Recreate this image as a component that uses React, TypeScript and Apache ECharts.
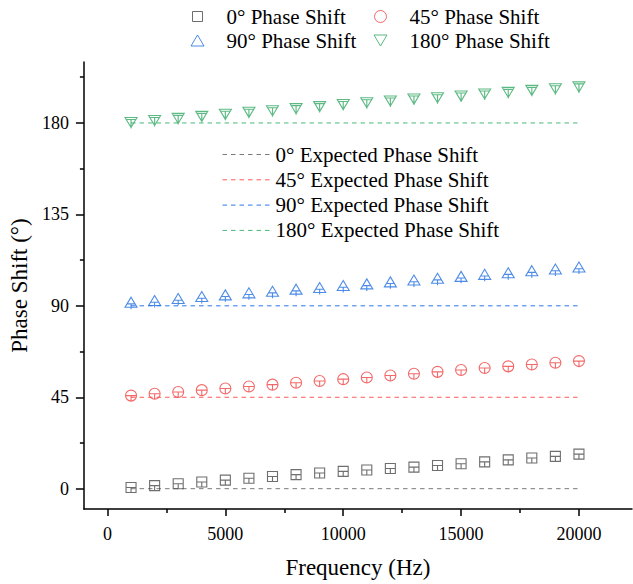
import React, { useEffect, useRef } from "react";
import * as echarts from "echarts";

const frequencies = [1000, 2000, 3000, 4000, 5000, 6000, 7000, 8000, 9000, 10000, 11000, 12000, 13000, 14000, 15000, 16000, 17000, 18000, 19000, 20000];
const phase0 = [0.6, 1.5, 2.4, 3.3, 4.2, 5.1, 6.0, 6.9, 7.7, 8.5, 9.2, 9.9, 10.6, 11.4, 12.3, 13.2, 14.2, 15.1, 15.9, 17.0];
const phase45 = [45.8, 46.7, 47.6, 48.5, 49.3, 50.3, 51.2, 52.1, 53.0, 53.9, 54.7, 55.7, 56.6, 57.5, 58.4, 59.4, 60.2, 61.1, 62.0, 62.8];
const phase90 = [91.3, 92.1, 93.1, 94.1, 94.9, 95.9, 96.7, 97.7, 98.5, 99.5, 100.3, 101.3, 102.2, 103.1, 104.0, 105.0, 105.8, 106.8, 107.6, 108.6];
const phase180 = [180.0, 181.0, 182.0, 183.0, 184.0, 185.0, 185.8, 186.8, 187.8, 188.8, 189.7, 190.6, 191.5, 192.2, 193.0, 194.0, 194.8, 195.8, 196.6, 197.5];
const expectedValues = [0, 45, 90, 180];
const expectedRange = [1000, 20000];

const measuredNames = ["0° Phase Shift", "45° Phase Shift", "90° Phase Shift", "180° Phase Shift"];
const expectedNames = ["0° Expected Phase Shift", "45° Expected Phase Shift", "90° Expected Phase Shift", "180° Expected Phase Shift"];
const xMajorTicks = [0, 5000, 10000, 15000, 20000];
const xMinorTicks = [2500, 7500, 12500, 17500];
const yMajorTicks = [0, 45, 90, 135, 180];
const yMinorTicks = [22.5, 67.5, 112.5, 157.5, 202.5];

const colors = ["#4a4a4a", "#f04444", "#1f6fe0", "#35a865"];
const lineColors = ["#7a7a7a", "#ff5a5a", "#2a78ea", "#48b878"];

const symbols = [
  "path://M0,0H10V10H0Z M0,5H10 M5,5V10",
  "path://M0,5A5,5,0,1,1,10,5A5,5,0,1,1,0,5Z M0,5H10 M5,5V10",
  "path://M6,0L12,10H0Z M2,6.7H10 M6,6.7V12",
  "path://M0,0H12L6,10Z M1.2,2H10.8 M6,2V11",
];
const symbolSizes: any[] = [10, 11, [12, 12], [12, 11]];
const legendIcons = [
  "path://M0,0M48,13M19,1.5H29V11.5H19Z",
  "path://M0,0M48,13M18,6.5A6,6,0,1,1,30,6.5A6,6,0,1,1,18,6.5Z",
  "path://M0,0M48,13M24,1L30.5,12H17.5Z",
  "path://M0,0M48,13M17.5,1H30.5L24,12Z",
];

const FONT = "Liberation Serif";

export default function App() {
  const ref = useRef<HTMLDivElement>(null);
  useEffect(() => {
    if (!ref.current) return;
    const chart = echarts.init(ref.current, undefined, { renderer: "svg" });
    const measured = [phase0, phase45, phase90, phase180];
    const series: any[] = [];
    expectedValues.forEach((v, i) => {
      series.push({
        name: expectedNames[i],
        type: "line",
        data: expectedRange.map((f) => [f, v]),
        symbol: "none",
        silent: true,
        lineStyle: { color: lineColors[i], width: 1, type: [4.5, 4] },
        itemStyle: { color: lineColors[i] },
        z: 1,
      });
    });
    measured.forEach((vals, i) => {
      series.push({
        name: measuredNames[i],
        type: "scatter",
        data: frequencies.map((f, k) => [f, vals[k]]),
        symbol: symbols[i],
        symbolSize: symbolSizes[i],
        itemStyle: { color: "rgba(0,0,0,0)", borderColor: colors[i], borderWidth: 1.1 },
        z: 3,
      });
    });
    const axisLineStyle = { show: true, onZero: false, lineStyle: { color: "#000", width: 1.5 } };
    const legendText = { fontFamily: FONT, fontSize: 21, color: "#000" };
    chart.setOption({
      animation: false,
      textStyle: { fontFamily: FONT, color: "#000" },
      grid: { left: 83, right: 1, top: 62, bottom: 75, containLabel: false },
      legend: [
        {
          orient: "vertical",
          left: 168,
          top: 1,
          itemWidth: 48,
          itemHeight: 13,
          itemGap: 3,
          textStyle: legendText,
          data: [0, 2].map((i) => ({
            name: measuredNames[i],
            icon: legendIcons[i],
            itemStyle: { color: "rgba(0,0,0,0)", borderColor: colors[i], borderWidth: 1 },
          })),
        },
        {
          orient: "vertical",
          left: 351,
          top: 1,
          itemWidth: 48,
          itemHeight: 13,
          itemGap: 3,
          textStyle: legendText,
          data: [1, 3].map((i) => ({
            name: measuredNames[i],
            icon: legendIcons[i],
            itemStyle: { color: "rgba(0,0,0,0)", borderColor: colors[i], borderWidth: 1 },
          })),
        },
        {
          orient: "vertical",
          left: 217,
          top: 139,
          itemWidth: 48,
          itemHeight: 14,
          itemGap: 4.3,
          textStyle: legendText,
          lineStyle: { width: 1 },
          data: expectedNames.map((n) => ({
            name: n,
            itemStyle: { color: "rgba(0,0,0,0)", borderColor: "rgba(0,0,0,0)", borderWidth: 0 },
          })),
        },
      ],
      xAxis: [
        {
          type: "value",
          min: -1000,
          max: 22250,
          position: "bottom",
          axisLine: axisLineStyle,
          splitLine: { show: false },
          axisTick: { show: true, inside: false, length: 7, lineStyle: { color: "#000", width: 1.5 }, customValues: xMajorTicks },
          axisLabel: { customValues: xMajorTicks, formatter: (v: number) => String(v), fontSize: 18, color: "#000", fontFamily: FONT, margin: 16 },
          name: "Frequency (Hz)",
          nameLocation: "middle",
          nameGap: 47,
          nameTextStyle: { fontSize: 23, fontFamily: FONT, color: "#000" },
        },
        {
          type: "value",
          min: -1000,
          max: 22250,
          position: "bottom",
          axisLine: { show: false, onZero: false },
          splitLine: { show: false },
          axisLabel: { show: false },
          axisTick: { show: true, inside: false, length: 4, lineStyle: { color: "#000", width: 1.5 }, customValues: xMinorTicks },
        },
      ],
      yAxis: [
        {
          type: "value",
          min: -10,
          max: 210,
          position: "left",
          axisLine: axisLineStyle,
          splitLine: { show: false },
          axisTick: { show: true, inside: false, length: 8, lineStyle: { color: "#000", width: 1.5 }, customValues: yMajorTicks },
          axisLabel: { customValues: yMajorTicks, formatter: (v: number) => String(v), fontSize: 18, color: "#000", fontFamily: FONT, margin: 15 },
          name: "Phase Shift (°)",
          nameLocation: "middle",
          nameGap: 48,
          nameTextStyle: { fontSize: 23, fontFamily: FONT, color: "#000" },
        },
        {
          type: "value",
          min: -10,
          max: 210,
          position: "left",
          axisLine: { show: false, onZero: false },
          splitLine: { show: false },
          axisLabel: { show: false },
          axisTick: { show: true, inside: false, length: 4, lineStyle: { color: "#000", width: 1.5 }, customValues: yMinorTicks },
        },
      ],
      series,
    });
    return () => chart.dispose();
  }, []);
  return <div ref={ref} style={{ width: 633, height: 584, position: "absolute", left: 0, top: 0 }} />;
}
